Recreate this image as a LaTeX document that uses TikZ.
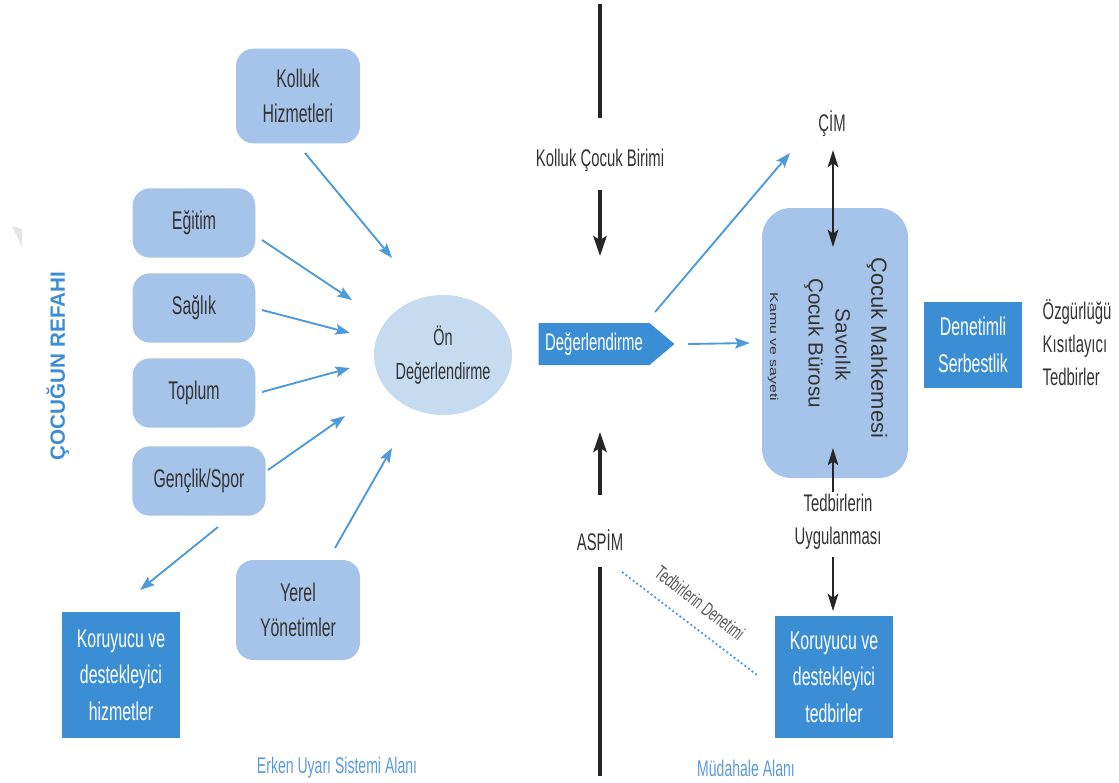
\documentclass[tikz,border=0pt]{standalone}
\usepackage{fontspec}
\setmainfont[FakeStretch=0.62]{Liberation Sans}
\newfontfamily\plainsans{Liberation Sans}
\newfontfamily\widesans[FakeStretch=1.4]{Liberation Sans}
\usetikzlibrary{shapes.geometric,shapes.symbols,arrows.meta,calc}
\definecolor{lightbox}{HTML}{A6C4E9}
\definecolor{ellfill}{HTML}{C6DAF0}
\definecolor{darkbox}{HTML}{3B8ED3}
\definecolor{arrblue}{HTML}{4C9ADA}
\definecolor{txtgray}{HTML}{333333}
\definecolor{labblue}{HTML}{5A9BD6}
\begin{document}
\begin{tikzpicture}[x=0.75pt,y=-0.75pt,
  lbox/.style={fill=lightbox,rounded corners=13pt,align=center,text=txtgray,inner sep=0pt,font=\fontsize{19.2}{26}\selectfont},
  dbox/.style={fill=darkbox,text=white,align=center,inner sep=0pt,font=\fontsize{19.2}{27.5}\selectfont},
  plaintext/.style={text=txtgray,align=center,inner sep=1pt,font=\fontsize{18}{25}\selectfont},
  boxtext/.style={text=txtgray,rotate=-90,inner sep=0pt,font=\fontsize{15.5}{18}\selectfont\plainsans},
  barrow/.style={draw=arrblue,line width=1.4pt,-{Stealth[length=11pt,width=8pt,inset=2pt]}},
  karrow/.style={draw=black!85,line width=1.6pt,-{Stealth[length=13pt,width=8pt,inset=3pt]}},
  kline/.style={draw=black!85,line width=2.3pt},
  bottomlabel/.style={text=labblue,inner sep=1pt,font=\fontsize{17}{20}\selectfont},
]
\useasboundingbox (0,0) rectangle (1119,782);

% faint corner mark
\fill[black!10] (12,226) -- (22,229) -- (22,247) -- cycle;

% left side
\node[lbox,minimum width=93pt,minimum height=71pt] (kolluk) at (298,96) {Kolluk\\Hizmetleri};
\node[lbox,minimum width=92pt,minimum height=52pt] (egitim) at (194,223) {Eğitim};
\node[lbox,minimum width=92pt,minimum height=52pt] (saglik) at (194,308) {Sağlık};
\node[lbox,minimum width=92pt,minimum height=52pt] (toplum) at (194,393) {Toplum};
\node[lbox,minimum width=100pt,minimum height=52pt] (genclik) at (199,481) {Gençlik/Spor};
\node[lbox,minimum width=93pt,minimum height=75pt] (yerel) at (298,610) {Yerel\\Yönetimler};
\node[ellipse,fill=ellfill,minimum width=103.5pt,minimum height=90pt,inner sep=0pt,align=center,text=txtgray,font=\fontsize{17.5}{25}\selectfont] (on) at (443,355) {Ön\\Değerlendirme};
\node[dbox,minimum width=88.5pt,minimum height=94.5pt] (koru1) at (121,675) {Koruyucu ve\\destekleyici\\hizmetler};
\node[rotate=90,text=darkbox,inner sep=0pt,font=\fontsize{15.5}{18}\selectfont\plainsans\bfseries] (refah) at (58,366) {ÇOCUĞUN REFAHI};

\draw[barrow] ($(kolluk)+(7,57)$) -- ($(on)+(-51,-97)$);
\draw[barrow] ($(egitim)+(68,17)$) -- ($(on)+(-91,-55)$);
\draw[barrow] ($(saglik)+(68,2)$) -- ($(on)+(-93,-22)$);
\draw[barrow] ($(toplum)+(68,-1)$) -- ($(on)+(-93,13)$);
\draw[barrow] ($(genclik)+(69,-11)$) -- ($(on)+(-98,61)$);
\draw[barrow] ($(yerel)+(37,-62)$) -- ($(on)+(-51,93)$);
\draw[barrow] ($(genclik)+(19,46)$) -- ($(koru1)+(19,-85)$);

% middle
\node[plaintext] (kcb) at (600,160) {Kolluk Çocuk Birimi};
\node[plaintext] (aspim) at (600,540) {ASPİM};
\node[signal,signal to=east,signal pointer angle=80,fill=darkbox,text=white,inner xsep=5pt,inner ysep=0pt,minimum height=31.5pt,font=\fontsize{18}{20}\selectfont] (deg) at (594,344) {Değerlendirme};
\coordinate (ltop) at (600,4);
\coordinate (lbot) at (600,776);
\draw[kline] (ltop) -- ($(kcb)+(0,-42)$);
\draw[karrow,line width=2.3pt,-{Stealth[length=15pt,width=10pt,inset=3pt]}] ($(kcb)+(0,30)$) -- ($(deg)+(6,-88)$);
\draw[karrow,line width=2.3pt,-{Stealth[length=15pt,width=10pt,inset=3pt]}] ($(aspim)+(0,-45)$) -- ($(deg)+(6,88)$);
\draw[kline] ($(aspim)+(0,27)$) -- (lbot);

% right side
\node[plaintext] (cim) at (832,124) {ÇİM};
\node[fill=lightbox,rounded corners=22pt,minimum width=109.5pt,minimum height=202.5pt,inner sep=0pt] (big) at (835,343) {};
\node[boxtext,font=\fontsize{16.5}{18}\selectfont\plainsans] (cm) at (877,348) {Çocuk Mahkemesi};
\node[boxtext] (sav) at (843,345) {Savcılık};
\node[boxtext] (cb) at (814,343) {Çocuk Bürosu};
\node[boxtext,font=\fontsize{8.5}{10}\selectfont\widesans] (kamu) at (773,347) {Kamu ve sayeti};

\draw[barrow] ($(deg)+(61,-32)$) -- ($(cim)+(-42,29)$);
\draw[barrow] ($(deg)+(94,0)$) -- ($(big.west)+(-12,0)$);
\draw[karrow,{Stealth[length=13pt,width=8pt,inset=3pt]}-{Stealth[length=13pt,width=8pt,inset=3pt]}] ($(cim)+(1,26)$) -- ($(big)+(-2,-96)$);

\node[plaintext] (tedbir) at (838,522) {Tedbirlerin\\Uygulanması};
\node[dbox,minimum width=88.5pt,minimum height=91pt] (koru2) at (834,677) {Koruyucu ve\\destekleyici\\tedbirler};
\draw[karrow] ($(tedbir)+(-5,-30)$) -- ($(big)+(-2,105)$);
\draw[karrow] ($(tedbir)+(-5,35)$) -- ($(koru2.north)+(-1,-5)$);

\node[dbox,minimum width=73pt,minimum height=64.5pt] (denet) at (973,345) {Denetimli\\Serbestlik};
\node[plaintext,align=left,font=\fontsize{18}{24.75}\selectfont] (ozg) at (1077,343) {Özgürlüğü\\Kısıtlayıcı\\Tedbirler};

% dotted supervision line
\coordinate (d1) at (622,572);
\coordinate (d2) at (757,675);
\draw[arrblue,dotted,line width=1.4pt] (d1) -- (d2);
\node[rotate=-38,text=black!65,inner sep=0pt,font=\fontsize{14.7}{16}\selectfont] (tden) at (700,603) {Tedbirlerin Denetimi};

% bottom labels
\node[bottomlabel] (erken) at (337,768) {Erken Uyarı Sistemi Alanı};
\node[bottomlabel] (mud) at (746,768) {Müdahale Alanı};
\end{tikzpicture}
\end{document}
